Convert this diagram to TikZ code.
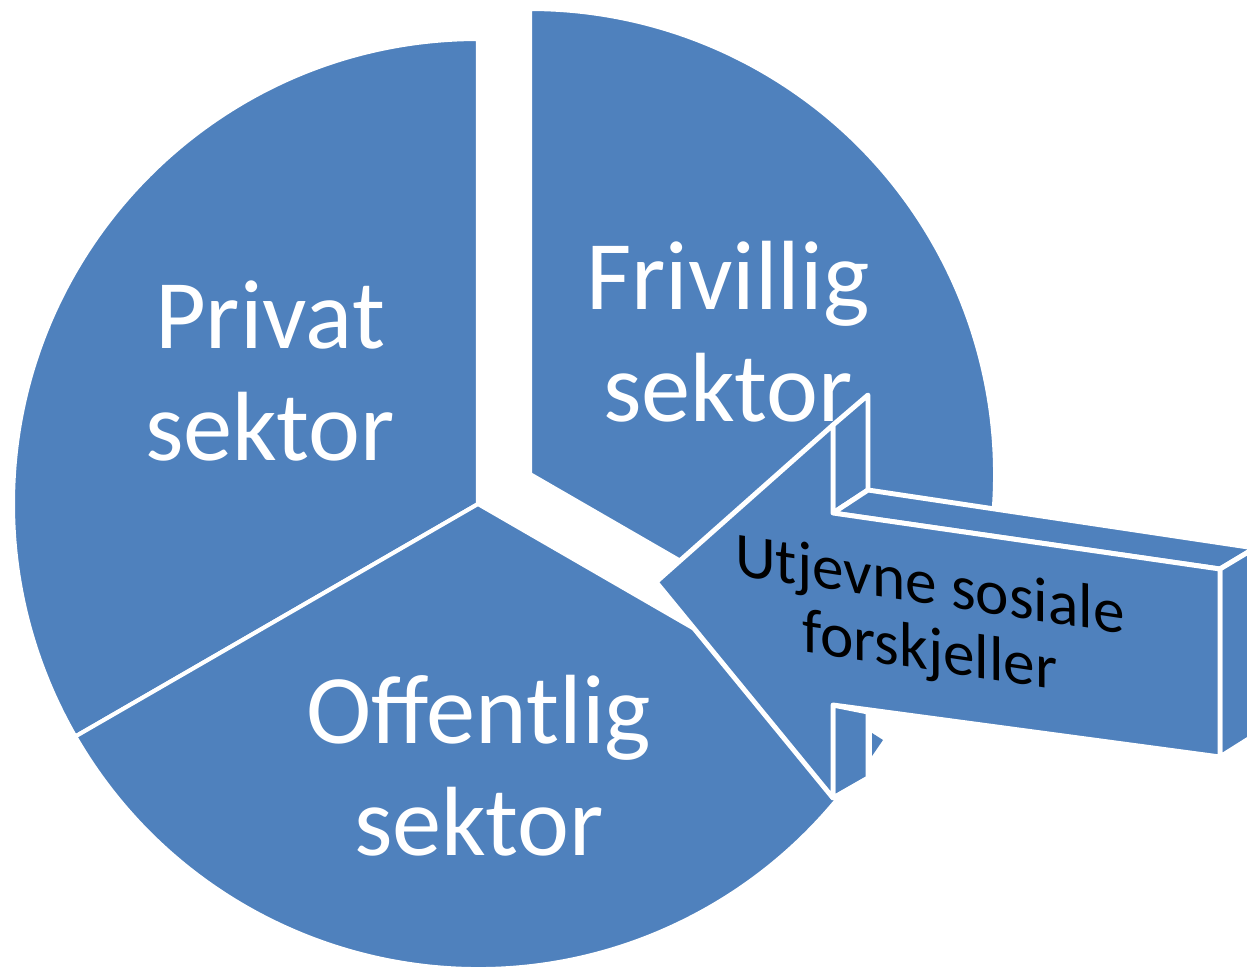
\documentclass[tikz,border=0pt]{standalone}
\usepackage{fontspec}
\setmainfont{Carlito}
\definecolor{piecol}{RGB}{79,129,189}
\tikzset{
  slice/.style={fill=piecol, draw=white, line width=2.3pt, line join=round},
  face/.style={fill=piecol, draw=white, line width=2.8pt, line join=round},
  big/.style={text=white, align=center, font=\fontsize{56}{63.5}\selectfont},
  small/.style={text=black, align=center, font=\fontsize{36}{37.5}\selectfont}
}
\begin{document}
\begin{tikzpicture}[x=0.02cm, y=0.02cm]
    \useasboundingbox (-478,-464) rectangle (769,504);
    \clip (-478,-464) rectangle (769,504);

    % pie slices
    \draw[slice] (0,0) -- (90:465) arc[start angle=90, end angle=210, radius=465] -- cycle;
    \draw[slice] (0,0) -- (210:465) arc[start angle=210, end angle=330, radius=465] -- cycle;
    \draw[slice] (52,30) -- ++(-30:465) arc[start angle=-30, end angle=90, radius=465] -- cycle;

    % arrow corners
    \coordinate (tip) at (178,-78);
    \coordinate (htf) at (355,79);
    \coordinate (htb) at (390,109);
    \coordinate (stb) at (390,14);
    \coordinate (stf) at (355,-9);
    \coordinate (srtf) at (742,-65);
    \coordinate (srtb) at (777,-44);
    \coordinate (srbf) at (742,-253);
    \coordinate (srbb) at (777,-231);
    \coordinate (sbf) at (355,-201);
    \coordinate (sbb) at (390,-208);
    \coordinate (hbf) at (355,-294);
    \coordinate (hbb) at (390,-274);

    % side faces
    \draw[face] (htf) -- (htb) -- (stb) -- (stf) -- cycle;
    \draw[face] (stf) -- (stb) -- (srtb) -- (srtf) -- cycle;
    \draw[face] (srtf) -- (srtb) -- (srbb) -- (srbf) -- cycle;
    \draw[face] (sbf) -- (sbb) -- (hbb) -- (hbf) -- cycle;
    \fill[white] (392,-208) -- (422,-212) -- (422,-266) -- (392,-266) -- cycle;
    \fill[piecol] (394,-229) -- (405,-236) -- (394,-252) -- cycle;

    % front face
    \draw[face] (tip) -- (htf) -- (stf) -- (srtf) -- (srbf) -- (sbf) -- (hbf) -- cycle;

    \node[big, anchor=base] (privat) at (-208,44) {Privat\\sektor};
    \node[big, anchor=base] (frivillig) at (250,83) {Frivillig\\sektor};
    \node[big, anchor=base] (offentlig) at (1,-351) {Offentlig\\sektor};
    \node[small, yslant=-0.15] (utjevne) at (452,-117) {Utjevne sosiale\\forskjeller};
\end{tikzpicture}
\end{document}
